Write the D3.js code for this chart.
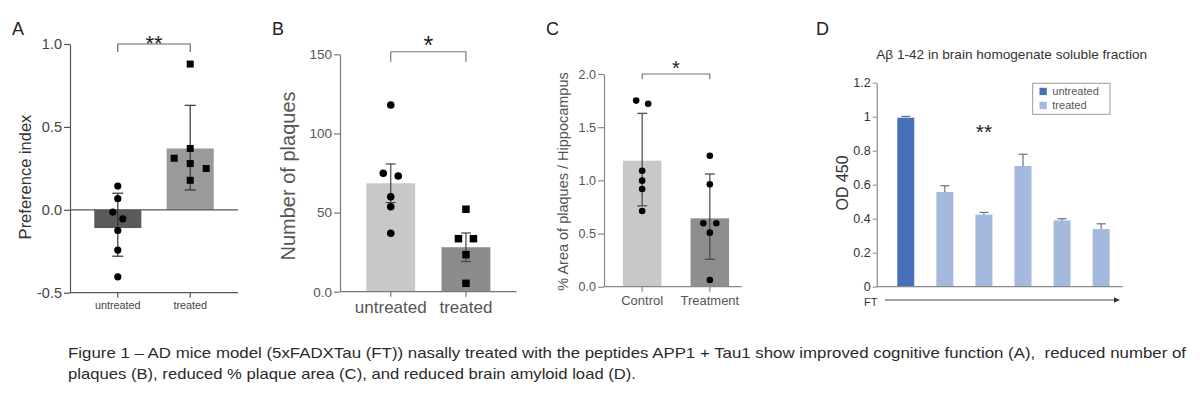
<!DOCTYPE html>
<html><head><meta charset="utf-8">
<script src="https://cdn.jsdelivr.net/npm/d3@7/dist/d3.min.js"></script>
<style>
body{margin:0;background:#fff}
svg{display:block}
text{font-family:"Liberation Sans",Arial,Helvetica,sans-serif}
</style>
</head><body>
<svg id="chart" width="1200" height="398"></svg>
<script>
// ---------------- DATA ----------------
// Panel A
const aGroups = ["untreated", "treated"];
const aMeans = [-0.11, 0.37];
const aErrLow = [-0.28, 0.12];
const aErrHigh = [0.10, 0.63];
const aPointsUntreated = [0.143, 0.067, -0.014, -0.055, -0.125, -0.243, -0.404];
const aPointsTreated = [0.879, 0.37, 0.311, 0.279, 0.249, 0.178];
const aTicks = [-0.5, 0.0, 0.5, 1.0];
const aTickLabels = ["-0.5", "0.0", "0.5", "1.0"];
const aSig = "**";

// Panel B
const bGroups = ["untreated", "treated"];
const bMeans = [68.5, 28.1];
const bErrLow = [56.3, 19.1];
const bErrHigh = [80.7, 37.1];
const bPointsUntreated = [118, 74.8, 73.1, 60, 53.7, 36.9];
const bPointsTreated = [52.1, 33.5, 33.5, 23.4, 5.3];
const bTicks = [0, 50, 100, 150];
const bTickLabels = ["0.0", "50", "100", "150"];
const bSig = "*";

// Panel C
const cGroups = ["Control", "Treatment"];
const cMeans = [1.185, 0.643];
const cErrLow = [0.76, 0.258];
const cErrHigh = [1.63, 1.06];
const cPointsControl = [1.75, 1.72, 1.09, 0.997, 0.919, 0.712];
const cPointsTreatment = [1.232, 0.963, 0.596, 0.596, 0.508, 0.063];
const cTicks = [0, 0.5, 1.0, 1.5, 2.0];
const cTickLabels = ["0.0", "0.5", "1.0", "1.5", "2.0"];
const cSig = "*";

// Panel D
const dBars = ["untreated", "t1", "t2", "t3", "t4", "t5"];
const dGroupOf = ["untreated", "treated", "treated", "treated", "treated", "treated"];
const dValues = [0.994, 0.557, 0.424, 0.71, 0.39, 0.339];
const dErrors = [0.008, 0.037, 0.013, 0.069, 0.01, 0.031];
const dTicks = [0, 0.2, 0.4, 0.6, 0.8, 1.0, 1.2];
const dTickLabels = ["0", "0.2", "0.4", "0.6", "0.8", "1", "1.2"];
const dLegend = ["untreated", "treated"];
const dTitle = "A\u03B2 1-42 in brain homogenate soluble fraction";
const dSig = "**";

const captionLines = [
  "Figure 1 \u2013 AD mice model (5xFADXTau (FT)) nasally treated with the peptides APP1 + Tau1 show improved cognitive function (A),  reduced number of",
  "plaques (B), reduced % plaque area (C), and reduced brain amyloid load (D)."
];

// ---------------- DRAW ----------------
const svg = d3.select("#chart");

function swarm(vals, y, thresh, s) {
  const idx = vals.map((v, i) => i).sort((a, b) => vals[b] - vals[a]);
  const off = new Array(vals.length).fill(0);
  let group = [idx[0]];
  const flush = () => group.forEach((k, j) => off[k] = (j - (group.length - 1) / 2) * s);
  for (let i = 1; i < idx.length; i++) {
    if (Math.abs(y(vals[idx[i]]) - y(vals[idx[i - 1]])) < thresh) group.push(idx[i]);
    else { flush(); group = [idx[i]]; }
  }
  flush();
  return off;
}

function dotPanel(cfg) {
  const g = svg.append("g");
  const y = d3.scaleLinear().domain(cfg.yDomain).range(cfg.yRange);
  const x = d3.scaleBand().domain(cfg.groups).range(cfg.bandRange)
    .paddingInner(cfg.pi).paddingOuter(cfg.po);
  const cx = k => x(k) + x.bandwidth() / 2;

  // bars
  g.selectAll("rect.bar").data(cfg.groups).join("rect")
    .attr("x", d => x(d)).attr("width", x.bandwidth())
    .attr("y", (d, i) => Math.min(y(cfg.means[i]), y(cfg.base)))
    .attr("height", (d, i) => Math.abs(y(cfg.means[i]) - y(cfg.base)))
    .attr("fill", (d, i) => cfg.colors[i]);

  // zero line
  if (cfg.zeroLine) {
    g.append("line").attr("x1", cfg.axisX[0]).attr("x2", cfg.axisX[1])
      .attr("y1", y(0)).attr("y2", y(0)).attr("stroke", cfg.axisColor).attr("stroke-width", 1.2);
  }

  // y axis
  const ya = g.append("g").attr("transform", `translate(${cfg.axisX[0]},0)`)
    .call(d3.axisLeft(y).tickValues(cfg.ticks).tickFormat((d, i) => cfg.tickLabels[i])
      .tickSize(6).tickSizeOuter(0).tickPadding(cfg.tickPad));
  ya.select(".domain").attr("stroke", cfg.axisColor).attr("stroke-width", 1.2);
  ya.selectAll(".tick line").attr("stroke", cfg.axisColor).attr("stroke-width", 1.2);
  ya.selectAll(".tick text").attr("fill", cfg.textColor).style("font-size", cfg.tickFont + "px")
    .style("font-family", "Liberation Sans, Arial, sans-serif");

  // x axis
  const xa = g.append("g").attr("transform", `translate(0,${y(cfg.yDomain[0])})`)
    .call(d3.axisBottom(x).tickSize(5).tickSizeOuter(0).tickPadding(cfg.xPad));
  xa.select(".domain").remove();
  xa.append("line").attr("x1", cfg.axisX[0]).attr("x2", cfg.axisX[1])
    .attr("stroke", cfg.axisColor).attr("stroke-width", 1.2);
  xa.selectAll(".tick line").attr("stroke", cfg.axisColor).attr("stroke-width", 1.2);
  xa.selectAll(".tick text").attr("fill", cfg.textColor).style("font-size", cfg.xFont + "px")
    .style("font-family", "Liberation Sans, Arial, sans-serif");

  // error bars
  cfg.groups.forEach((k, i) => {
    const c = cx(k);
    g.append("line").attr("x1", c).attr("x2", c)
      .attr("y1", y(cfg.errLow[i])).attr("y2", y(cfg.errHigh[i]))
      .attr("stroke", cfg.errColor).attr("stroke-width", 1.2);
    [cfg.errLow[i], cfg.errHigh[i]].forEach(v => {
      g.append("line").attr("x1", c - cfg.cap / 2).attr("x2", c + cfg.cap / 2)
        .attr("y1", y(v)).attr("y2", y(v)).attr("stroke", cfg.errColor).attr("stroke-width", 1.2);
    });
  });

  // points
  cfg.groups.forEach((k, i) => {
    const vals = cfg.points[i];
    const off = swarm(vals, y, 7.5, cfg.spread[i]);
    const c = cx(k);
    if (cfg.shapes[i] === "circle") {
      g.selectAll(null).data(vals).join("circle")
        .attr("cx", (d, j) => c + off[j]).attr("cy", d => y(d))
        .attr("r", cfg.r).attr("fill", "#000");
    } else {
      g.selectAll(null).data(vals).join("rect")
        .attr("x", (d, j) => c + off[j] - cfg.sq / 2).attr("y", d => y(d) - cfg.sq / 2)
        .attr("width", cfg.sq).attr("height", cfg.sq).attr("fill", "#000");
    }
  });

  // significance bracket
  const by = y(cfg.bracketY);
  const c0 = cx(cfg.groups[0]), c1 = cx(cfg.groups[1]);
  g.append("path")
    .attr("d", `M${c0},${by + cfg.bracketDrop}V${by}H${c1}V${by + cfg.bracketDrop}`)
    .attr("fill", "none").attr("stroke", cfg.bracketColor).attr("stroke-width", 1.2);
  g.append("text").attr("x", (c0 + c1) / 2).attr("y", by - cfg.sigGap)
    .attr("text-anchor", "middle").style("font-size", cfg.sigFont + "px").attr("fill", "#222")
    .text(cfg.sig);

  // y label
  g.append("text")
    .attr("transform", `translate(${cfg.yLabelX},${cfg.yLabelY}) rotate(-90)`)
    .attr("text-anchor", "middle").attr("dominant-baseline", "central")
    .style("font-size", cfg.yLabelFont + "px").attr("fill", cfg.labelColor).text(cfg.yLabel);

  // panel letter
  g.append("text").attr("x", cfg.letterX).attr("y", 35).style("font-size", "18px")
    .attr("fill", "#222").text(cfg.letter);
}

dotPanel({
  letter: "A", letterX: 12,
  groups: aGroups, means: aMeans, errLow: aErrLow, errHigh: aErrHigh,
  points: [aPointsUntreated, aPointsTreated], shapes: ["circle", "square"],
  yDomain: [-0.5, 1.0], yRange: [292.7, 44], base: 0,
  bandRange: [70, 238], pi: 0.35, po: 0.335, axisX: [70, 238],
  ticks: aTicks, tickLabels: aTickLabels, tickFont: 14.5, tickPad: 2,
  xFont: 10.8, xPad: 4,
  colors: ["#5a5a5a", "#9a9a9a"], axisColor: "#555", textColor: "#444", errColor: "#333",
  cap: 11, r: 3.6, sq: 7, spread: [10, 16], zeroLine: true,
  bracketY: 1.0, bracketDrop: 8, bracketColor: "#666", sig: aSig, sigFont: 22, sigGap: -6.8,
  yLabel: "Preference index", yLabelX: 25, yLabelY: 177, yLabelFont: 16.5, labelColor: "#333"
});

dotPanel({
  letter: "B", letterX: 272,
  groups: bGroups, means: bMeans, errLow: bErrLow, errHigh: bErrHigh,
  points: [bPointsUntreated, bPointsTreated], shapes: ["circle", "square"],
  yDomain: [0, 150], yRange: [291.7, 54.3], base: 0,
  bandRange: [340, 516.7], pi: 0.35, po: 0.35, axisX: [340, 516.7],
  ticks: bTicks, tickLabels: bTickLabels, tickFont: 13.5, tickPad: 2,
  xFont: 17, xPad: 4,
  colors: ["#c8c8c8", "#8c8c8c"], axisColor: "#777", textColor: "#555", errColor: "#444",
  cap: 10, r: 3.8, sq: 7.5, spread: [15, 15], zeroLine: false,
  bracketY: 151.6, bracketDrop: 10, bracketColor: "#777", sig: bSig, sigFont: 25, sigGap: -1.8,
  yLabel: "Number of plaques", yLabelX: 288, yLabelY: 176, yLabelFont: 20, labelColor: "#555"
});

dotPanel({
  letter: "C", letterX: 546,
  groups: cGroups, means: cMeans, errLow: cErrLow, errHigh: cErrHigh,
  points: [cPointsControl, cPointsTreatment], shapes: ["circle", "circle"],
  yDomain: [0, 2], yRange: [286.7, 74], base: 0,
  bandRange: [608, 744], pi: 0.43, po: 0.22, axisX: [604, 741.7],
  ticks: cTicks, tickLabels: cTickLabels, tickFont: 12.5, tickPad: 2,
  xFont: 13, xPad: 4,
  colors: ["#c8c8c8", "#8e8e8e"], axisColor: "#888", textColor: "#555", errColor: "#444",
  cap: 10, r: 3.3, sq: 6, spread: [12, 13], zeroLine: false,
  bracketY: 2.0, bracketDrop: 5, bracketColor: "#777", sig: cSig, sigFont: 20, sigGap: -0.5,
  yLabel: "% Area of plaques / Hippocampus", yLabelX: 563, yLabelY: 181.5, yLabelFont: 14.5, labelColor: "#555"
});

// Panel D
(function () {
  const g = svg.append("g");
  const y = d3.scaleLinear().domain([0, 1.2]).range([286.7, 82.7]);
  const x = d3.scaleBand().domain(dBars).range([887.5, 1119.4]).paddingInner(0.565).paddingOuter(0.25);
  const color = d3.scaleOrdinal().domain(dLegend).range(["#4671b9", "#a4b9de"]);

  g.selectAll("rect.bar").data(dBars).join("rect")
    .attr("x", d => x(d)).attr("width", x.bandwidth())
    .attr("y", (d, i) => y(dValues[i])).attr("height", (d, i) => y(0) - y(dValues[i]))
    .attr("fill", (d, i) => color(dGroupOf[i]));

  // error bars (upper only)
  dBars.forEach((k, i) => {
    const c = x(k) + x.bandwidth() / 2;
    const top = dValues[i] + dErrors[i];
    g.append("line").attr("x1", c).attr("x2", c).attr("y1", y(dValues[i])).attr("y2", y(top))
      .attr("stroke", "#66728c").attr("stroke-width", 1.2);
    g.append("line").attr("x1", c - 4.5).attr("x2", c + 4.5).attr("y1", y(top)).attr("y2", y(top))
      .attr("stroke", "#66728c").attr("stroke-width", 1.2);
  });

  const ya = g.append("g").attr("transform", "translate(876.7,0)")
    .call(d3.axisLeft(y).tickValues(dTicks).tickFormat((d, i) => dTickLabels[i]).tickSize(4).tickSizeOuter(0).tickPadding(2));
  ya.select(".domain").attr("stroke", "#888").attr("stroke-width", 1.2);
  ya.selectAll(".tick line").attr("stroke", "#888");
  ya.selectAll(".tick text").attr("fill", "#333").style("font-size", "12.5px")
    .style("font-family", "Liberation Sans, Arial, sans-serif");

  g.append("line").attr("x1", 876.7).attr("x2", 1122.7).attr("y1", y(0)).attr("y2", y(0))
    .attr("stroke", "#888").attr("stroke-width", 1.2);

  // title
  g.append("text").attr("x", 1011.7).attr("y", 58.5).attr("text-anchor", "middle")
    .style("font-size", "13.6px").attr("fill", "#333").text(dTitle);

  // y label
  g.append("text").attr("transform", "translate(842,183) rotate(-90)")
    .attr("text-anchor", "middle").attr("dominant-baseline", "central")
    .style("font-size", "16px").attr("fill", "#333").text("OD 450");

  // significance
  g.append("text").attr("x", 984).attr("y", 139).attr("text-anchor", "middle")
    .style("font-size", "21px").attr("fill", "#222").text(dSig);

  // legend
  const lg = g.append("g");
  lg.append("rect").attr("x", 1032.7).attr("y", 83.3).attr("width", 77.3).attr("height", 31)
    .attr("fill", "#fff").attr("stroke", "#999").attr("stroke-width", 1);
  dLegend.forEach((k, i) => {
    lg.append("rect").attr("x", 1039.5).attr("y", 87.8 + i * 14).attr("width", 7.3).attr("height", 7.3)
      .attr("fill", color(k));
    lg.append("text").attr("x", 1052.3).attr("y", 95.3 + i * 14).style("font-size", "11px")
      .attr("fill", "#555").text(k);
  });

  // FT arrow
  g.append("text").attr("x", 864).attr("y", 305.5).style("font-size", "11px").attr("fill", "#333").text("FT");
  g.append("line").attr("x1", 885).attr("x2", 1116).attr("y1", 300).attr("y2", 300)
    .attr("stroke", "#444").attr("stroke-width", 1);
  g.append("path").attr("d", "M1120,300L1114,297.3L1114,302.7Z").attr("fill", "#333");

  g.append("text").attr("x", 816).attr("y", 35).style("font-size", "18px").attr("fill", "#222").text("D");
})();

// caption
const capLengths = [1118, 568];
svg.selectAll("text.cap").data(captionLines).join("text")
  .attr("class", "cap").attr("x", 68).attr("y", (d, i) => 357.5 + i * 21.5)
  .attr("textLength", (d, i) => capLengths[i]).attr("lengthAdjust", "spacingAndGlyphs")
  .style("white-space", "pre")
  .style("font-family", "'Liberation Sans Narrow','Liberation Sans',Arial,sans-serif")
  .style("font-size", "15px").attr("fill", "#2a2a2a").text(d => d);
</script>
</body></html>
